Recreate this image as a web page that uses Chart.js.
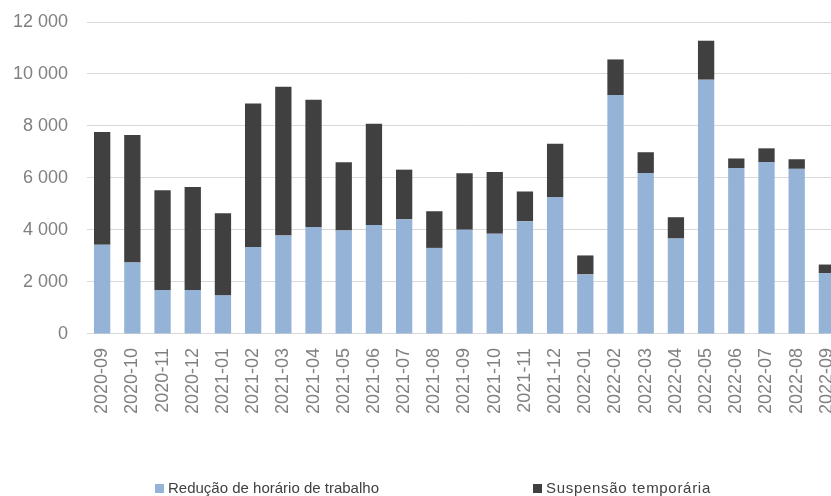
<!DOCTYPE html>
<html lang="pt">

<head>
    <meta charset="UTF-8">
    <title>Layoff</title>
    <script src="https://cdn.jsdelivr.net/npm/chart.js"></script>
    <style>
        html, body {
            margin: 0;
            padding: 0;
            overflow: hidden;
            background: #fff;
            width: 831px;
            height: 496px;
        }

        #wrap {
            position: absolute;
            left: 0;
            top: 0;
            width: 850px;
            height: 496px;
        }

        .leg {
            position: absolute;
            top: 480px;
            font-family: 'Liberation Sans', Arial, sans-serif;
            font-size: 15px;
            line-height: 15px;
            color: #404040;
            white-space: nowrap;
        }

        .leg i {
            position: absolute;
            top: 4px;
            width: 9px;
            height: 9px;
        }
    </style>
</head>

<body>
    <div id="wrap">
        <canvas id="chart"></canvas>
    </div>
    <div class="leg" style="left:155px"><i id="box1" style="left:0"></i><span style="margin-left:13px">Redução de horário de trabalho</span></div>
    <div class="leg" style="left:533px"><i id="box2" style="left:0"></i><span style="margin-left:13px;letter-spacing:0.7px">Suspensão temporária</span></div>

    <script>
        // meses
        var meses = ['2020-09', '2020-10', '2020-11', '2020-12', '2021-01', '2021-02', '2021-03', '2021-04',
            '2021-05', '2021-06', '2021-07', '2021-08', '2021-09', '2021-10', '2021-11', '2021-12',
            '2022-01', '2022-02', '2022-03', '2022-04', '2022-05', '2022-06', '2022-07', '2022-08', '2022-09'];

        var reducao = [3430, 2750, 1690, 1690, 1480, 3340, 3790, 4110, 3980, 4190, 4410, 3310, 4010,
            3850, 4330, 5270, 2290, 9190, 6190, 3670, 9780, 6380, 6610, 6350, 2330];

        var suspensao = [4340, 4900, 3840, 3960, 3160, 5520, 5720, 4900, 2620, 3900, 1910, 1410, 2170,
            2380, 1150, 2050, 730, 1370, 800, 820, 1500, 370, 530, 370, 340];

        var yTicks = [0, 2000, 4000, 6000, 8000, 10000, 12000];

        var corReducao = '#95b3d7';
        var corSuspensao = '#404040';

        document.getElementById('box1').style.background = corReducao;
        document.getElementById('box2').style.background = corSuspensao;

        function fmt(v) {
            return String(v).replace(/\B(?=(\d{3})+(?!\d))/g, ' ');
        }

        var ctx = document.getElementById('chart').getContext('2d');
        var myChart = new Chart(ctx, {
            type: 'bar',
            data: {
                labels: meses,
                datasets: [{
                    label: 'Redução de horário de trabalho',
                    data: reducao,
                    backgroundColor: corReducao
                }, {
                    label: 'Suspensão temporária',
                    data: suspensao,
                    backgroundColor: corSuspensao
                }]
            },
            options: {
                responsive: true,
                maintainAspectRatio: false,
                animation: false,
                datasets: {
                    bar: {
                        categoryPercentage: 1,
                        barPercentage: 0.54
                    }
                },
                layout: {
                    padding: { left: 13, right: 8, top: 22, bottom: 82 }
                },
                plugins: {
                    legend: { display: false },
                    tooltip: { enabled: false }
                },
                scales: {
                    x: {
                        stacked: true,
                        // transparent tick marks give the gap under the axis
                        grid: { color: 'rgba(0,0,0,0)', drawOnChartArea: false, tickLength: 14, tickColor: 'rgba(0,0,0,0)' },
                        border: { display: true, color: '#d9d9d9', width: 1 },
                        ticks: {
                            minRotation: 90,
                            maxRotation: 90,
                            autoSkip: false,
                            padding: 0,
                            color: '#808080',
                            font: { family: 'Liberation Sans', size: 18 }
                        }
                    },
                    y: {
                        stacked: true,
                        min: 0,
                        max: 12000,
                        afterBuildTicks: function (axis) {
                            axis.ticks = yTicks.map(function (v) { return { value: v }; });
                        },
                        grid: { color: '#d9d9d9', lineWidth: 1, tickLength: 19, tickColor: 'rgba(0,0,0,0)' },
                        border: { display: false },
                        ticks: {
                            padding: 0,
                            color: '#808080',
                            font: { family: 'Liberation Sans', size: 18 },
                            callback: function (v) { return fmt(v); }
                        }
                    }
                }
            }
        });
    </script>
</body>

</html>
